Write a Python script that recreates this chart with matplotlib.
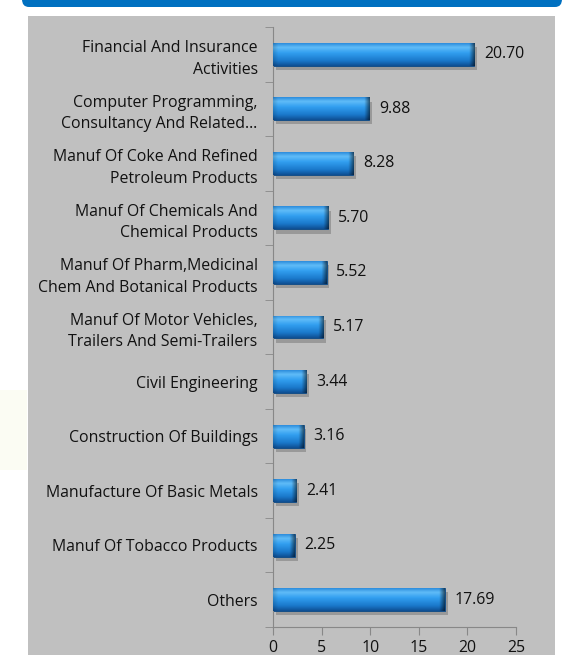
import matplotlib
matplotlib.use("Agg")
import matplotlib.pyplot as plt
import matplotlib.patheffects as pe
from matplotlib.patches import Rectangle, FancyBboxPatch
from matplotlib.colors import LinearSegmentedColormap
import numpy as np

plt.rcParams['font.family'] = ['Open Sans', 'DejaVu Sans']

categories = [
    "Financial And Insurance\nActivities",
    "Computer Programming,\nConsultancy And Related\u2026",
    "Manuf Of Coke And Refined\nPetroleum Products",
    "Manuf Of Chemicals And\nChemical Products",
    "Manuf Of Pharm,Medicinal\nChem And Botanical Products",
    "Manuf Of Motor Vehicles,\nTrailers And Semi-Trailers",
    "Civil Engineering",
    "Construction Of Buildings",
    "Manufacture Of Basic Metals",
    "Manuf Of Tobacco Products",
    "Others",
]
values = [20.70, 9.88, 8.28, 5.70, 5.52, 5.17, 3.44, 3.16, 2.41, 2.25, 17.69]
xticks = [0, 5, 10, 15, 20, 25]

W, H = 576, 655
fs = 11.4
txt = '#111111'
fig = plt.figure(figsize=(W / 100, H / 100), dpi=100)
fig.patch.set_facecolor('white')

# header band and grey panel behind the chart
fig.patches.append(FancyBboxPatch((22 / W, 1 - 7 / H), (562 - 22) / W, 20 / H,
                                  boxstyle="round,pad=0,rounding_size=0.012",
                                  transform=fig.transFigure, facecolor='#0070c0',
                                  edgecolor='none', zorder=0))
fig.patches.append(Rectangle((0, 1 - 470 / H), 27 / W, 80 / H, transform=fig.transFigure,
                             facecolor='#fbfcf3', edgecolor='none', zorder=0))
fig.patches.append(Rectangle((28 / W, 0), (555 - 28) / W, 1 - 16 / H, transform=fig.transFigure,
                             facecolor='#c0c0c0', edgecolor='none', zorder=0))

ax = fig.add_axes([273 / W, 1 - 627 / H, (516 - 273) / W, (627 - 27) / H])
ax.set_facecolor('none')
ax.set_zorder(2)

y = np.arange(len(categories))
bh = 0.42
bars = ax.barh(y, values, height=bh, color='#1b7ccc', edgecolor='#0b4580', linewidth=0.6,
               zorder=2)

# glossy shading: vertical highlight plus darker bevel at the right end
cmap = LinearSegmentedColormap.from_list('gloss', [
    (0.0, '#2e8edd'), (0.18, '#60bcf8'), (0.42, '#329ff0'),
    (0.78, '#1a78ca'), (1.0, '#0f5094')])
for bar, v in zip(bars, values):
    bar.set_path_effects([pe.SimplePatchShadow(offset=(2, -3), shadow_rgbFace='#7a7a7a',
                                               alpha=0.55), pe.Normal()])
    ny, nx = 40, 200
    t = np.linspace(0, 1, ny)[:, None]
    col = cmap(t * np.ones((1, nx)))
    xs = np.linspace(0, v, nx)[None, :]
    end = np.clip((v - xs) / 0.55, 0, 1)
    dark = 0.45 + 0.55 * end
    start = np.clip(xs / 0.5, 0, 1)
    col[..., :3] *= dark[..., None]
    col[..., :3] = col[..., :3] * (0.85 + 0.15 * start[..., None])
    img = ax.imshow(col, extent=(0, v, bar.get_y() + bh, bar.get_y()), aspect='auto',
                    interpolation='bilinear', zorder=3)
    img.set_clip_path(bar)
    ax.text(v + 1.0, bar.get_y() + bh / 2, f"{v:.2f}", va='center', ha='left',
            fontsize=fs, color=txt, zorder=4)

ax.set_ylim(len(categories) - 0.5, -0.5)
ax.set_xlim(0, 25)
ax.set_yticks(y)
ax.set_yticklabels(categories, fontsize=fs, color=txt, linespacing=1.45)
ax.set_yticks(np.arange(-0.5, len(categories)), minor=True)
ax.tick_params(axis='y', which='major', length=0, pad=11)
ax.tick_params(axis='y', which='minor', length=6, color='#888888', direction='out')
ax.set_xticks(xticks)
ax.set_xticklabels([str(t) for t in xticks], fontsize=fs, color=txt)
ax.tick_params(axis='x', length=6, color='#888888', direction='out', pad=3)
for s in ['top', 'right']:
    ax.spines[s].set_visible(False)
for s in ['left', 'bottom']:
    ax.spines[s].set_color('#888888')
    ax.spines[s].set_linewidth(0.8)

fig.savefig('out.png', dpi=100)
